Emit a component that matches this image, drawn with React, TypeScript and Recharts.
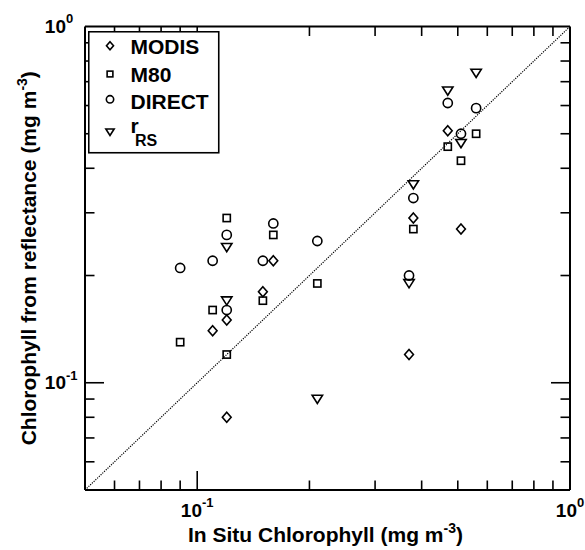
import React from 'react';
import { ScatterChart, Scatter, XAxis, YAxis, ReferenceLine, Legend } from 'recharts';

// ---- data ----
const MODIS = [
  { x: 0.11, y: 0.14 }, { x: 0.12, y: 0.15 }, { x: 0.12, y: 0.08 }, { x: 0.15, y: 0.18 },
  { x: 0.16, y: 0.22 }, { x: 0.37, y: 0.12 }, { x: 0.38, y: 0.29 }, { x: 0.47, y: 0.51 },
  { x: 0.51, y: 0.27 },
];
const M80 = [
  { x: 0.09, y: 0.13 }, { x: 0.11, y: 0.16 }, { x: 0.12, y: 0.29 }, { x: 0.12, y: 0.12 },
  { x: 0.15, y: 0.17 }, { x: 0.16, y: 0.26 }, { x: 0.21, y: 0.19 }, { x: 0.38, y: 0.27 },
  { x: 0.47, y: 0.46 }, { x: 0.51, y: 0.42 }, { x: 0.56, y: 0.5 },
];
const DIRECT = [
  { x: 0.09, y: 0.21 }, { x: 0.11, y: 0.22 }, { x: 0.12, y: 0.26 }, { x: 0.12, y: 0.16 },
  { x: 0.15, y: 0.22 }, { x: 0.16, y: 0.28 }, { x: 0.21, y: 0.25 }, { x: 0.37, y: 0.2 },
  { x: 0.38, y: 0.33 }, { x: 0.47, y: 0.61 }, { x: 0.51, y: 0.5 }, { x: 0.56, y: 0.59 },
];
const RRS = [
  { x: 0.12, y: 0.24 }, { x: 0.12, y: 0.17 }, { x: 0.21, y: 0.09 }, { x: 0.37, y: 0.19 },
  { x: 0.38, y: 0.36 }, { x: 0.47, y: 0.66 }, { x: 0.51, y: 0.47 }, { x: 0.56, y: 0.74 },
];
const DOMAIN = [0.05, 1];
const TICKS = [0.06, 0.07, 0.08, 0.09, 0.1, 0.2, 0.3, 0.4, 0.5, 0.6, 0.7, 0.8, 0.9, 1];
const MAJOR_TICKS = [0.1];
const TICK_LABELS: Record<string, string> = { '0.1': '-1', '1': '0' };
const X_TITLE = 'In Situ Chlorophyll (mg m';
const Y_TITLE = 'Chlorophyll from reflectance (mg m';
const TITLE_EXP = '-3';
const LEGEND_NAMES = ['MODIS', 'M80', 'DIRECT', 'r'];
const LEGEND_SUB = 'RS';

const FONT = '"Liberation Sans", Arial, Helvetica, sans-serif';
const SW = 1.6;

// ---- marker shapes ----
type Kind = 'diamond' | 'square' | 'circle' | 'triangle';
const Marker = ({ cx, cy, kind, s = 1 }: { cx: number; cy: number; kind: Kind; s?: number }) => {
  if (cx == null || cy == null) return null;
  const common = { fill: 'none', stroke: '#000', strokeWidth: SW };
  if (kind === 'circle') return <circle cx={cx} cy={cy} r={4.6 * s} {...common} />;
  if (kind === 'square') return <rect x={cx - 3.6 * s} y={cy - 3.6 * s} width={7.2 * s} height={7.2 * s} {...common} />;
  if (kind === 'diamond')
    return <polygon points={`${cx},${cy - 5 * s} ${cx + 4.4 * s},${cy} ${cx},${cy + 5 * s} ${cx - 4.4 * s},${cy}`} {...common} />;
  return <polygon points={`${cx - 5.2 * s},${cy - 3.8 * s} ${cx + 5.2 * s},${cy - 3.8 * s} ${cx},${cy + 4.4 * s}`} {...common} />;
};
const shapeOf = (kind: Kind) => (p: any) => <Marker cx={p.cx} cy={p.cy} kind={kind} />;

// ---- ticks ----
const tickLen = (v: number) => (MAJOR_TICKS.includes(v) ? 19 : 9.5);
const inner = (v: number) => v > DOMAIN[0] && v < DOMAIN[1];

const BottomTick = (p: any) => {
  const { x, y, payload } = p;
  const v = payload.value;
  const exp = TICK_LABELS[String(v)];
  return (
    <g>
      {inner(v) && <line x1={x} x2={x} y1={y} y2={y - tickLen(v)} stroke="#000" strokeWidth={SW} />}
      {exp && (
        <text x={x} y={y + 26.7} textAnchor="middle" fontFamily={FONT} fontWeight="bold" fontSize={19} fill="#000">
          10<tspan dy={-9.7} fontSize={13}>{exp}</tspan>
        </text>
      )}
    </g>
  );
};
const TopTick = (p: any) => {
  const { x, y, payload } = p;
  const v = payload.value;
  return inner(v) ? <line x1={x} x2={x} y1={y} y2={y + tickLen(v)} stroke="#000" strokeWidth={SW} /> : <g />;
};
const LeftTick = (p: any) => {
  const { x, y, payload } = p;
  const v = payload.value;
  const exp = TICK_LABELS[String(v)];
  return (
    <g>
      {inner(v) && <line x1={x} x2={x + tickLen(v)} y1={y} y2={y} stroke="#000" strokeWidth={SW} />}
      {exp && (
        <g fontFamily={FONT} fontWeight="bold" fill="#000">
          <text x={x - 19} y={y + 6.5} textAnchor="end" fontSize={19}>10</text>
          <text x={x - 19} y={y - 3.2} textAnchor="start" fontSize={13}>{exp}</text>
        </g>
      )}
    </g>
  );
};
const RightTick = (p: any) => {
  const { x, y, payload } = p;
  const v = payload.value;
  return inner(v) ? <line x1={x} x2={x - tickLen(v)} y1={y} y2={y} stroke="#000" strokeWidth={SW} /> : <g />;
};

// ---- titles ----
const XTitle = (p: any) => {
  const vb = p.viewBox;
  return (
    <text x={vb.x + vb.width / 2 - 2} y={vb.y + 51.7} textAnchor="middle" fontFamily={FONT} fontWeight="bold" fontSize={21} fill="#000">
      {X_TITLE}<tspan dy={-9} fontSize={14}>{TITLE_EXP}</tspan><tspan dy={9}>)</tspan>
    </text>
  );
};
const YTitle = (p: any) => {
  const vb = p.viewBox;
  const cx = vb.x + 36;
  const cy = vb.y + vb.height / 2;
  return (
    <text x={cx} y={cy} transform={`rotate(-90 ${cx} ${cy})`} textAnchor="middle" fontFamily={FONT} fontWeight="bold" fontSize={21} fill="#000">
      {Y_TITLE}<tspan dy={-9} fontSize={14}>{TITLE_EXP}</tspan><tspan dy={9}>)</tspan>
    </text>
  );
};

// ---- legend ----
const LEGEND_KINDS: Kind[] = ['diamond', 'square', 'circle', 'triangle'];
const LEGEND_SYM_Y = [14.8, 43, 68.3, 101];
const LEGEND_TXT_Y = [23.3, 50.8, 78.3, 101.7];
const renderLegend = () => (
  <svg width={132} height={124} style={{ display: 'block' }}>
    <rect x={0.75} y={0.75} width={130} height={121} fill="#fff" stroke="#000" strokeWidth={SW} />
    {LEGEND_NAMES.map((n, i) => (
      <g key={n}>
        <Marker cx={22} cy={LEGEND_SYM_Y[i]} kind={LEGEND_KINDS[i]} s={0.8} />
        <text x={42.5} y={LEGEND_TXT_Y[i]} fontFamily={FONT} fontWeight="bold" fontSize={21} fill="#000">{n}</text>
      </g>
    ))}
    <text x={47} y={115} fontFamily={FONT} fontWeight="bold" fontSize={16} fill="#000">{LEGEND_SUB}</text>
  </svg>
);

export default function App() {
  return (
    <div style={{ width: 585, height: 550, overflow: 'hidden' }}>
      <style>{'html, body { margin: 0; padding: 0; overflow: hidden; } .recharts-surface { overflow: visible; }'}</style>
      <ScatterChart width={585} height={550} margin={{ top: 25.5, right: 14, bottom: 0, left: 0 }}>
        <XAxis
          xAxisId="b" dataKey="x" type="number" scale="log" domain={DOMAIN} allowDataOverflow
          ticks={TICKS} interval={0} tickSize={0} tickMargin={0} tickLine={false} height={60}
          axisLine={{ stroke: '#000', strokeWidth: 2 }} tick={<BottomTick />} label={<XTitle />}
        />
        <XAxis
          xAxisId="t" orientation="top" dataKey="x" type="number" scale="log" domain={DOMAIN} allowDataOverflow
          ticks={TICKS} interval={0} tickSize={0} tickMargin={0} tickLine={false} height={1}
          axisLine={{ stroke: '#000', strokeWidth: 2 }} tick={<TopTick />}
        />
        <YAxis
          yAxisId="l" dataKey="y" type="number" scale="log" domain={DOMAIN} allowDataOverflow
          ticks={TICKS} interval={0} tickSize={0} tickMargin={0} tickLine={false} width={85}
          axisLine={{ stroke: '#000', strokeWidth: 2 }} tick={<LeftTick />} label={<YTitle />}
        />
        <YAxis
          yAxisId="r" orientation="right" dataKey="y" type="number" scale="log" domain={DOMAIN} allowDataOverflow
          ticks={TICKS} interval={0} tickSize={0} tickMargin={0} tickLine={false} width={1}
          axisLine={{ stroke: '#000', strokeWidth: 2 }} tick={<RightTick />}
        />
        <ReferenceLine
          xAxisId="b" yAxisId="l"
          segment={[{ x: DOMAIN[0], y: DOMAIN[0] }, { x: DOMAIN[1], y: DOMAIN[1] }]}
          stroke="#000" strokeWidth={1.2} strokeDasharray="1.2 1.2" ifOverflow="visible"
        />
        <Scatter name="MODIS" data={MODIS} xAxisId="b" yAxisId="l" shape={shapeOf('diamond')} isAnimationActive={false} />
        <Scatter name="M80" data={M80} xAxisId="b" yAxisId="l" shape={shapeOf('square')} isAnimationActive={false} />
        <Scatter name="DIRECT" data={DIRECT} xAxisId="b" yAxisId="l" shape={shapeOf('circle')} isAnimationActive={false} />
        <Scatter name="rRS" data={RRS} xAxisId="b" yAxisId="l" shape={shapeOf('triangle')} isAnimationActive={false} />
        <Legend
          layout="horizontal" verticalAlign="middle" align="center" content={renderLegend}
          wrapperStyle={{ left: 88, top: 30.5, width: 132, height: 124 }}
        />
      </ScatterChart>
    </div>
  );
}
